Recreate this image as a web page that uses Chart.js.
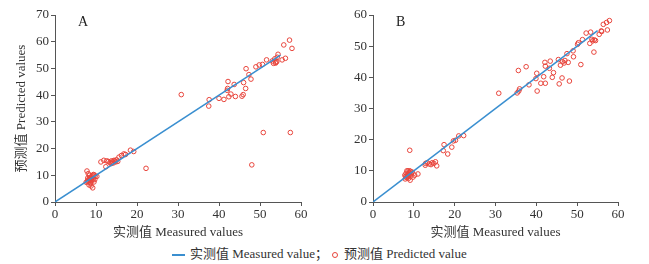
<!DOCTYPE html>
<html>
<head>
<meta charset="utf-8">
<script src="https://cdn.jsdelivr.net/npm/chart.js@4/dist/chart.umd.min.js"></script>
<style>
    body { margin: 0; background: #fff; }
    #wrap { position: relative; width: 649px; height: 264px; font-family: "Liberation Serif", "Noto Sans CJK SC", serif; }
    #chart-a { position: absolute; left: 0; top: 0; }
    #chart-b { position: absolute; left: 320px; top: 0; }
    #legend { position: absolute; left: 172px; top: 245px; font-size: 13px; color: #333; white-space: nowrap; line-height: 18px; }
    .swatch-line { display: inline-block; width: 13px; height: 2px; background: #3a8fd0; vertical-align: middle; margin-right: 5px; }
    .swatch-dot { display: inline-block; width: 4px; height: 4px; border: 1px solid #e8453c; border-radius: 50%; vertical-align: middle; margin: 0 6px 0 4px; }
</style>
</head>
<body>
<div id="wrap">
    <canvas id="chart-a" width="330" height="240"></canvas>
    <canvas id="chart-b" width="329" height="240"></canvas>
    <div id="legend">
        <span class="swatch-line"></span>实测值 Measured value；<span class="swatch-dot"></span>预测值 Predicted value
    </div>
</div>
<script>
// Data
const measuredA = [7.8, 8.1, 8.4, 8.6, 8.0, 7.6, 8.2, 8.5, 8.8, 9.0, 9.2, 9.4, 9.6, 9.8, 10.2, 9.0, 8.7, 8.3, 8.8, 9.2, 9.5, 9.3, 8.0, 7.9, 8.6, 9.7, 8.4, 8.9,
    11.2, 11.9, 12.4, 12.6, 13.0, 13.4, 13.7, 14.0, 14.2, 14.5, 14.8, 15.0, 15.3, 15.6, 16.2, 16.8, 17.2, 18.4, 19.2, 14.4, 13.8,
    22.2, 30.8, 37.6, 37.5, 40.0, 41.2, 42.0, 42.1, 42.2, 42.4, 42.9, 43.7, 44.0, 45.6, 45.9, 46.0, 46.5, 46.6, 47.3, 47.8, 49.0, 49.8, 50.6,
    51.6, 53.0, 53.3, 53.6, 53.9, 54.2, 54.4, 53.8, 54.1, 55.4, 56.2, 55.8, 57.2, 57.8, 50.8, 57.4, 48.0];
const predictedA = [11.6, 10.6, 10.0, 9.2, 8.2, 7.4, 7.8, 8.4, 8.8, 9.4, 10.0, 10.3, 10.1, 9.6, 9.6, 8.0, 7.0, 6.4, 6.0, 5.3, 7.5, 8.6, 9.0, 7.6, 7.3, 8.4, 8.6, 8.2,
    15.0, 15.6, 13.2, 15.4, 15.2, 14.8, 14.4, 15.0, 14.6, 15.4, 15.0, 15.8, 15.2, 16.8, 17.4, 18.0, 17.8, 19.4, 18.9, 15.6, 15.4,
    12.6, 40.2, 38.3, 35.9, 38.8, 38.4, 41.8, 42.5, 45.1, 39.4, 40.4, 44.0, 39.5, 39.6, 40.2, 44.7, 42.5, 49.9, 47.7, 46.0, 50.6, 51.3, 51.5,
    53.2, 52.8, 51.9, 53.6, 52.3, 54.2, 55.3, 52.0, 52.6, 53.2, 53.8, 58.8, 60.6, 57.5, 26.0, 26.0, 13.9];

const measuredB = [7.8, 8.0, 8.2, 8.4, 8.3, 8.6, 8.8, 9.0, 9.0, 9.2, 9.4, 9.6, 9.8, 9.1, 8.7, 8.1, 7.9, 8.5, 9.3, 10.2, 11.0, 9.0, 8.9, 8.6,
    12.8, 12.9, 13.3, 13.8, 14.2, 14.5, 14.9, 15.3, 15.6, 17.4, 17.2, 18.3, 19.3, 19.7, 20.2, 21.0, 22.2,
    30.8, 35.3, 35.7, 35.9, 35.6, 37.5, 38.2, 39.9, 40.1, 40.2, 41.1, 41.8, 42.2, 42.1, 42.2, 43.2, 43.4, 43.9, 44.2, 45.4, 45.6, 45.9, 46.3,
    46.4, 46.8, 47.0, 47.5, 47.8, 48.1, 49.0, 49.1, 50.1, 50.3, 50.9, 51.3, 52.2, 53.1, 53.3, 53.6, 53.8, 54.2, 54.5, 54.1, 55.4, 55.9, 56.4,
    57.2, 57.4, 57.9, 56.0];
const predictedB = [8.6, 8.2, 7.8, 8.4, 10.0, 9.0, 8.6, 9.4, 10.0, 9.8, 9.0, 9.6, 8.0, 7.0, 7.6, 9.2, 7.4, 8.0, 8.4, 8.6, 9.0, 16.6, 9.2, 10.0,
    11.8, 12.4, 12.6, 12.2, 12.0, 12.6, 12.4, 12.9, 11.6, 18.4, 16.5, 15.4, 17.6, 19.6, 19.8, 21.2, 21.3,
    34.9, 35.0, 35.6, 36.3, 42.2, 43.4, 37.6, 39.6, 41.3, 35.6, 38.1, 40.2, 38.1, 44.8, 43.6, 42.9, 45.2, 40.0, 41.5, 45.7, 37.9, 43.9, 39.8,
    45.0, 44.6, 45.4, 47.6, 44.8, 38.8, 48.5, 46.6, 50.6, 51.1, 44.1, 52.1, 54.2, 50.9, 54.5, 52.2, 51.7, 52.0, 51.8, 48.1, 53.8, 54.9, 57.0,
    57.6, 55.2, 58.2, 54.7];

// 1:1 line endpoints
const lineA = [0, 55];
const lineB = [0, 55];

const xTicks = [0, 10, 20, 30, 40, 50, 60];
const yMaxA = 70;
const yMaxB = 60;

// Style
const FONT = '"Liberation Serif", "Noto Sans CJK SC", serif';
const AXIS_COLOR = "#555";
const TEXT_COLOR = "#333";
const LINE_COLOR = "#3a8fd0";
const POINT_COLOR = "#e8453c";

// Function
const toPoints = (xs, ys) => xs.map((x, i) => ({x: x, y: ys[i]}));

const panelLabel = (text) => ({
    id: "panelLabel",
    afterDraw: (chart) => {
        const ctx = chart.ctx;
        const area = chart.chartArea;
        ctx.save();
        ctx.font = "14px " + FONT;
        ctx.fillStyle = "#222";
        ctx.textBaseline = "middle";
        ctx.fillText(text, area.left + 23, area.top + 7);
        ctx.restore();
    }
});

const makeChart = (el, xs, ys, line, yMax, yTitle, yWidth, padRight) => {
    return new Chart(el, {
        type: "scatter",
        data: {
            datasets: [
                {
                    type: "line",
                    label: "实测值 Measured value",
                    data: toPoints(line, line),
                    borderColor: LINE_COLOR,
                    borderWidth: 1.5,
                    pointRadius: 0,
                    order: 0
                },
                {
                    label: "预测值 Predicted value",
                    data: toPoints(xs, ys),
                    pointStyle: "circle",
                    pointRadius: 2.3,
                    borderColor: POINT_COLOR,
                    backgroundColor: "rgba(0,0,0,0)",
                    borderWidth: 1,
                    order: 1
                }
            ]
        },
        options: {
            responsive: false,
            animation: false,
            layout: {padding: {top: 15, right: padRight, left: 0, bottom: 0}},
            plugins: {
                legend: {display: false},
                tooltip: {enabled: false}
            },
            scales: {
                x: {
                    type: "linear",
                    min: 0,
                    max: 60,
                    afterBuildTicks: (axis) => { axis.ticks = xTicks.map(v => ({value: v})); },
                    grid: {display: true, drawOnChartArea: false, drawTicks: true, tickLength: 4, color: AXIS_COLOR},
                    border: {display: true, color: AXIS_COLOR, width: 1},
                    ticks: {color: TEXT_COLOR, font: {family: FONT, size: 13}, padding: 1, maxRotation: 0},
                    title: {display: true, text: "实测值 Measured values", color: TEXT_COLOR, font: {family: FONT, size: 13}, padding: {top: 2, bottom: 0}},
                    afterFit: (axis) => { axis.height = 38; }
                },
                y: {
                    type: "linear",
                    min: 0,
                    max: yMax,
                    ticks: {stepSize: 10, color: TEXT_COLOR, font: {family: FONT, size: 13}, padding: 2},
                    grid: {display: true, drawOnChartArea: false, drawTicks: true, tickLength: 4, color: AXIS_COLOR},
                    border: {display: true, color: AXIS_COLOR, width: 1},
                    title: {display: yTitle !== "", text: yTitle, color: TEXT_COLOR, font: {family: FONT, size: 13}, padding: {top: 14, bottom: 4}},
                    afterFit: (axis) => { axis.width = yWidth; }
                }
            }
        },
        plugins: [panelLabel(yTitle !== "" ? "A" : "B")]
    });
}

// Init
makeChart(document.querySelector("#chart-a"), measuredA, predictedA, lineA, yMaxA, "预测值 Predicted values", 55, 29);
makeChart(document.querySelector("#chart-b"), measuredB, predictedB, lineB, yMaxB, "", 53, 31);
</script>
</body>
</html>
